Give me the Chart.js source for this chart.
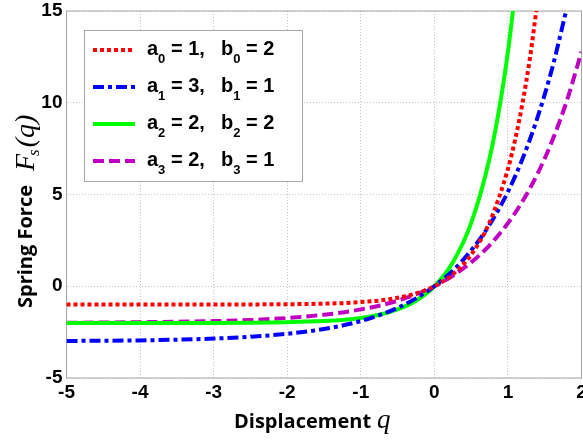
<!DOCTYPE html>
<html>
<head>
<meta charset="utf-8">
<script src="https://cdn.jsdelivr.net/npm/chart.js@4/dist/chart.umd.min.js"></script>
<style>
  html, body { margin: 0; padding: 0; background: #ffffff; }
  #wrap { width: 583px; height: 441px; position: relative; }
</style>
</head>
<body>
<div id="wrap"><canvas id="c" width="583" height="441"></canvas></div>
<script>
// ---- Data ----
const xTicks = [-5, -4, -3, -2, -1, 0, 1, 2];
const yTicks = [-5, 0, 5, 10, 15];

const seriesLabels = [
  ["a", "0", " = 1,", "b", "0", " = 2"],
  ["a", "1", " = 3,", "b", "1", " = 1"],
  ["a", "2", " = 2,", "b", "2", " = 2"],
  ["a", "3", " = 2,", "b", "3", " = 1"]
];

// a0 = 1, b0 = 2 (red dotted)
const qRed = [-5, -4, -3, -2.5, -2, -1.5, -1.25, -1, -0.75, -0.5, -0.25, 0, 0.25, 0.5, 0.75, 1, 1.1, 1.2, 1.3, 1.4];
const fRed = [-1.00, -1.00, -1.00, -0.99, -0.98, -0.95, -0.92, -0.86, -0.78, -0.63, -0.39, 0, 0.65, 1.72, 3.48, 6.39, 8.03, 10.02, 12.46, 15.45];

// a1 = 3, b1 = 1 (blue dash-dot)
const qBlue = [-5, -4.5, -4, -3.5, -3, -2.5, -2, -1.5, -1.25, -1, -0.75, -0.5, -0.25, 0, 0.25, 0.5, 0.75, 1, 1.2, 1.4, 1.6, 1.8];
const fBlue = [-2.98, -2.97, -2.95, -2.91, -2.85, -2.75, -2.59, -2.33, -2.14, -1.90, -1.58, -1.18, -0.66, 0, 0.85, 1.95, 3.35, 5.15, 6.96, 9.17, 11.86, 15.15];

// a2 = 2, b2 = 2 (green solid)
const qGreen = [-5, -4, -3, -2.5, -2, -1.5, -1.25, -1, -0.75, -0.5, -0.25, 0, 0.25, 0.5, 0.75, 0.9, 1, 1.1];
const fGreen = [-2.00, -2.00, -2.00, -1.99, -1.96, -1.90, -1.84, -1.73, -1.55, -1.26, -0.79, 0, 1.30, 3.44, 6.96, 10.10, 12.78, 16.05];

// a3 = 2, b3 = 1 (magenta dashed)
const qMag = [-5, -4, -3, -2.5, -2, -1.5, -1.25, -1, -0.75, -0.5, -0.25, 0, 0.25, 0.5, 0.75, 1, 1.2, 1.4, 1.6, 1.8, 2];
const fMag = [-1.99, -1.96, -1.90, -1.84, -1.73, -1.55, -1.43, -1.26, -1.06, -0.79, -0.44, 0, 0.57, 1.30, 2.23, 3.44, 4.64, 6.11, 7.91, 10.10, 12.78];

// ---- styles ----
const styles = [
  { color: "#ff0000", dash: [4, 3] },
  { color: "#0000ff", dash: [11, 4, 4, 4] },
  { color: "#00ff00", dash: [] },
  { color: "#c000c0", dash: [11, 5] }
];
const xs = [qRed, qBlue, qGreen, qMag];
const ys = [fRed, fBlue, fGreen, fMag];

const datasets = xs.map((q, i) => ({
  label: seriesLabels[i].join(""),
  data: q.map((v, k) => ({ x: v, y: ys[i][k] })),
  borderColor: styles[i].color,
  backgroundColor: styles[i].color,
  borderWidth: 4,
  borderDash: styles[i].dash,
  borderCapStyle: "butt",
  pointRadius: 0,
  fill: false,
  cubicInterpolationMode: "monotone",
  clip: 0
}));

const frameAndTitles = {
  id: "frameAndTitles",
  beforeDatasetsDraw(chart) {
    const { ctx, chartArea: a } = chart;
    ctx.save();
    ctx.strokeStyle = "#a6a6a6";
    ctx.lineWidth = 1;
    ctx.setLineDash([]);
    ctx.strokeRect(a.left, a.top, a.right - a.left, a.bottom - a.top);
    ctx.restore();
  },
  afterDraw(chart) {
    const ctx = chart.ctx;
    ctx.save();
    ctx.fillStyle = "#000";
    ctx.textBaseline = "alphabetic";
    ctx.textAlign = "left";
    // X title
    ctx.font = "bold 20px 'Open Sans'";
    ctx.fillText("Displacement", 234, 428);
    ctx.font = "italic 27px 'Liberation Serif'";
    ctx.fillText("q", 377, 428);

    // Y title (rotated)
    ctx.save();
    ctx.translate(32, 308);
    ctx.rotate(-Math.PI / 2);
    ctx.font = "bold 20px 'Open Sans'";
    ctx.fillText("Spring Force", 0, 0);
    ctx.restore();

    ctx.save();
    ctx.translate(34, 171);
    ctx.rotate(-Math.PI / 2);
    ctx.font = "italic 28px 'Liberation Serif'";
    ctx.fillText("F", 0, 0);
    let w = ctx.measureText("F").width;
    ctx.font = "italic 17px 'Liberation Serif'";
    ctx.fillText("s", w - 2, 5);
    w += ctx.measureText("s").width;
    ctx.font = "italic 28px 'Liberation Serif'";
    ctx.fillText("(q)", w, 0);
    ctx.restore();

    // Legend box
    const bx = 84.5, by = 30.5, bw = 218, bh = 151;
    ctx.fillStyle = "#ffffff";
    ctx.fillRect(bx, by, bw, bh);
    ctx.strokeStyle = "#a6a6a6";
    ctx.lineWidth = 1;
    ctx.strokeRect(bx, by, bw, bh);

    const rows = [50, 87, 124, 161];
    rows.forEach((ry, i) => {
      ctx.save();
      ctx.strokeStyle = styles[i].color;
      ctx.lineWidth = 4;
      ctx.lineCap = "butt";
      ctx.setLineDash(styles[i].dash);
      ctx.beginPath();
      ctx.moveTo(93, ry);
      ctx.lineTo(135, ry);
      ctx.stroke();
      ctx.restore();

      const parts = seriesLabels[i];
      const base = ry + 5;
      ctx.fillStyle = "#000";
      const big = "bold 20px 'Liberation Sans'";
      const small = "bold 13px 'Liberation Sans'";
      let x = 147;
      ctx.font = big; ctx.fillText(parts[0], x, base); x += ctx.measureText(parts[0]).width;
      ctx.font = small; ctx.fillText(parts[1], x, base + 8); x += ctx.measureText(parts[1]).width;
      ctx.font = big; ctx.fillText(parts[2], x, base);
      x = 221;
      ctx.font = big; ctx.fillText(parts[3], x, base); x += ctx.measureText(parts[3]).width;
      ctx.font = small; ctx.fillText(parts[4], x, base + 8); x += ctx.measureText(parts[4]).width;
      ctx.font = big; ctx.fillText(parts[5], x, base);
    });
    ctx.restore();
  }
};

const tickFont = { family: "'Liberation Sans', Arial, sans-serif", size: 19, weight: "bold" };

new Chart(document.getElementById("c"), {
  type: "line",
  data: { datasets },
  options: {
    responsive: false,
    animation: false,
    devicePixelRatio: 1,
    layout: { padding: { left: 0, right: 1.5, top: 11, bottom: 0 } },
    plugins: { legend: { display: false }, tooltip: { enabled: false } },
    scales: {
      x: {
        type: "linear",
        min: xTicks[0],
        max: xTicks[xTicks.length - 1],
        afterBuildTicks(s) { s.ticks = xTicks.map(v => ({ value: v })); },
        afterFit(s) { s.height = 63; s.paddingLeft = 0; s.paddingRight = 0; },
        ticks: { font: tickFont, color: "#000", padding: 3, maxRotation: 0 },
        grid: { color: "#c4c4c4", lineWidth: 1, drawTicks: false },
        border: { display: false, dash: [1, 2] }
      },
      y: {
        type: "linear",
        min: yTicks[0],
        max: yTicks[yTicks.length - 1],
        afterBuildTicks(s) { s.ticks = yTicks.map(v => ({ value: v })); },
        afterFit(s) { s.width = 66.5; s.paddingTop = 0; s.paddingBottom = 0; },
        ticks: { font: tickFont, color: "#000", padding: 4 },
        grid: { color: "#c4c4c4", lineWidth: 1, drawTicks: false },
        border: { display: false, dash: [1, 2] }
      }
    }
  },
  plugins: [frameAndTitles]
});
</script>
</body>
</html>
